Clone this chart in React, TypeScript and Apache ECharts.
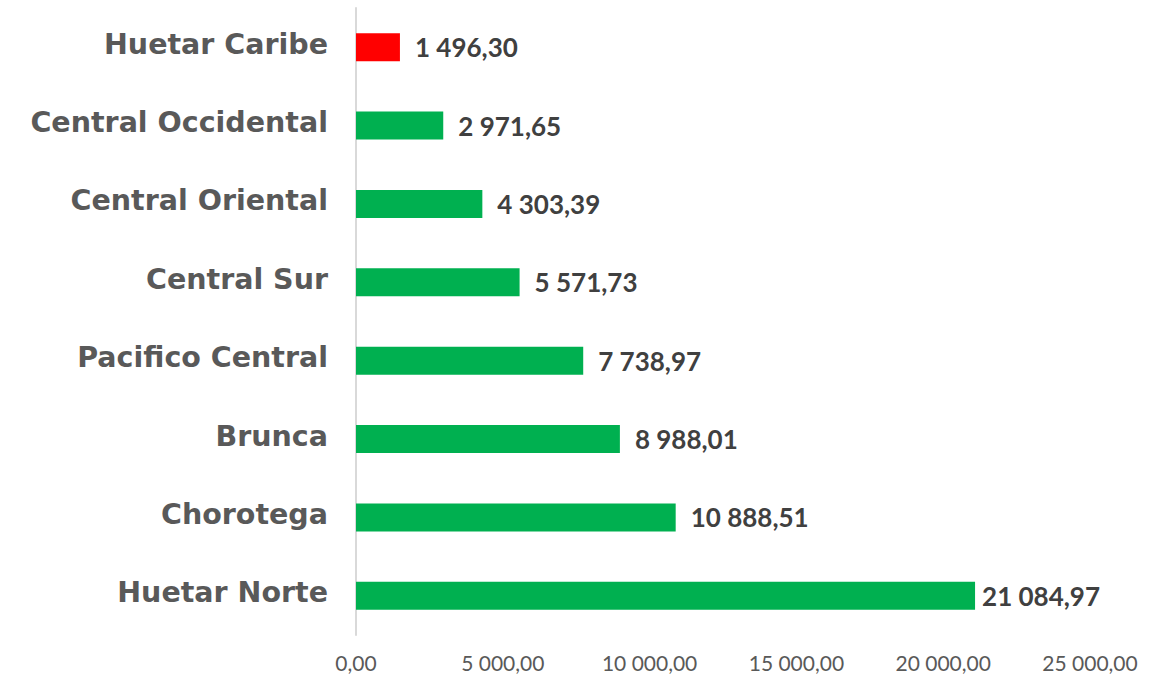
import React, { useEffect, useRef } from "react";
import * as echarts from "echarts";

const categories = [
  "Huetar Caribe",
  "Central Occidental",
  "Central Oriental",
  "Central Sur",
  "Pacifico Central",
  "Brunca",
  "Chorotega",
  "Huetar Norte",
];
const values = [1496.3, 2971.65, 4303.39, 5571.73, 7738.97, 8988.01, 10888.51, 21084.97];
const highlight = ["Huetar Caribe"];
const xMin = 0;
const xMax = 25000;
const xInterval = 5000;

function fmt(v: number): string {
  const fixed = v.toFixed(2);
  const [intPart, dec] = fixed.split(".");
  const withSep = intPart.replace(/\B(?=(\d{3})+(?!\d))/g, " ");
  return withSep + "," + dec;
}

export default function App() {
  const ref = useRef<HTMLDivElement>(null);
  useEffect(() => {
    document.body.style.margin = "0";
    if (!ref.current) return;
    const chart = echarts.init(ref.current, undefined, { renderer: "svg" });
    const maxVal = Math.max(...values);
    chart.setOption({
      animation: false,
      backgroundColor: "#ffffff",
      grid: { left: 356, right: 68, top: 8, bottom: 43, containLabel: false },
      xAxis: {
        type: "value",
        min: xMin,
        max: xMax,
        interval: xInterval,
        axisLine: { show: false },
        axisTick: { show: false },
        splitLine: { show: false },
        axisLabel: {
          formatter: (v: number) => fmt(v),
          color: "#595959",
          fontFamily: "Lato",
          fontSize: 21,
          margin: 17,
        },
      },
      yAxis: {
        type: "category",
        data: categories,
        inverse: true,
        axisLine: { show: true, lineStyle: { color: "#D9D9D9", width: 2 } },
        axisTick: { show: false },
        axisLabel: {
          margin: 28,
          formatter: (v: string) => "{c|" + v + "}",
          rich: {
            c: {
              color: "#595959",
              fontFamily: "DejaVu Sans",
              fontWeight: "bold",
              fontSize: 28.5,
              padding: [0, 0, 6, 0],
            },
          },
        },
      },
      series: [
        {
          type: "bar",
          barWidth: 28,
          data: categories.map((c, i) => ({
            value: values[i],
            itemStyle: { color: highlight.includes(c) ? "#FF0000" : "#00B050" },
            label: values[i] === maxVal ? { distance: 7 } : undefined,
          })),
          label: {
            show: true,
            position: "right",
            distance: 15,
            formatter: (p: any) => fmt(p.value),
            color: "#404040",
            fontFamily: "Lato",
            fontWeight: "bold",
            fontSize: 26,
          },
        },
      ],
    });
    return () => chart.dispose();
  }, []);
  return <div ref={ref} style={{ width: 1158, height: 678 }} />;
}
